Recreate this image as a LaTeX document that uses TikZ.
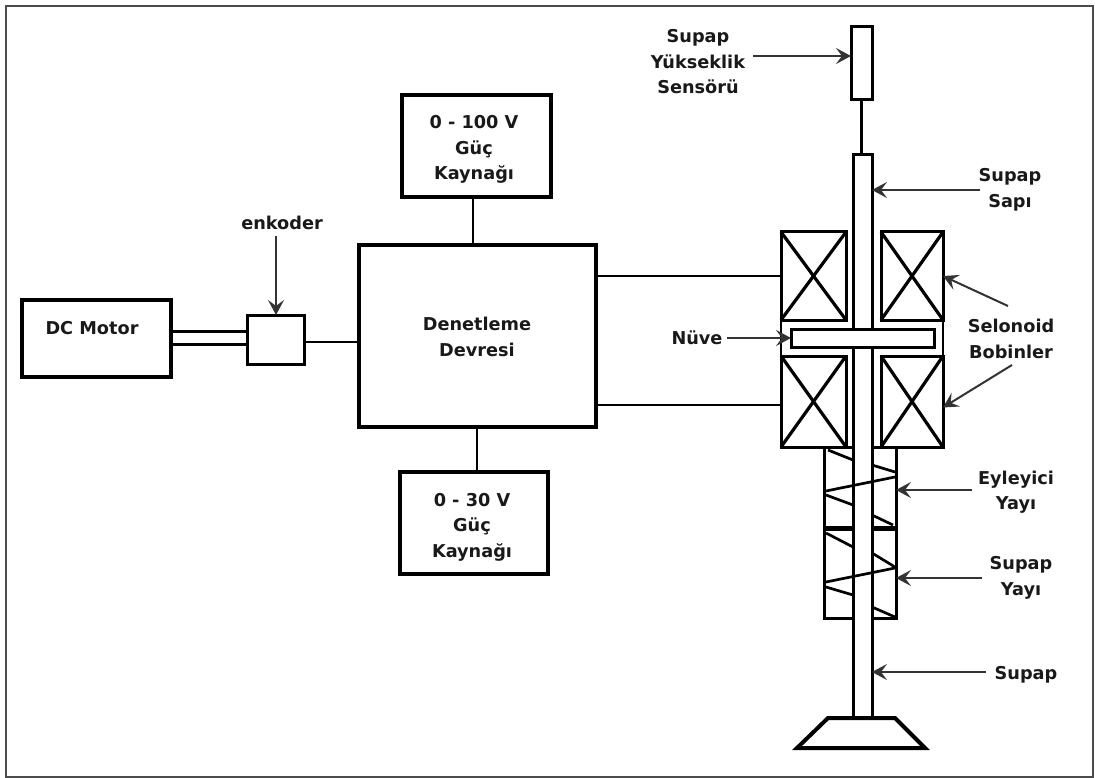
\documentclass[tikz,border=0pt]{standalone}
\usepackage{fontspec}
\setmainfont{DejaVu Sans}
\usetikzlibrary{arrows.meta}
\tikzset{
  thick box/.style={draw=black,fill=white,line width=4.6pt,inner sep=0pt,outer sep=0pt,rectangle},
  thin box/.style={draw=black,fill=white,line width=3pt,inner sep=0pt,outer sep=0pt,rectangle},
  wire/.style={draw=black,line width=2.7pt},
  springline/.style={draw=black,line width=2.7pt},
  lead/.style={draw=black!80,line width=2pt,-{Stealth[length=15pt,width=16pt,inset=6pt]}},
  lbl/.style={font=\fontsize{17.7}{25.5}\selectfont\bfseries,text=black!90,inner sep=0pt,align=center},
  cross/.style={draw=black,line width=3.2pt}
}
\begin{document}
\begin{tikzpicture}[x=1pt,y=-1pt]
\useasboundingbox (0,0) rectangle (1095,778);
\fill[white] (0,0) rectangle (1095,778);
\node[draw=black!70,line width=1.6pt,inner sep=0pt,outer sep=0pt,minimum width=1087pt,minimum height=771pt] (frame) at (549.5,391.5) {};

% block diagram
\node[thick box,minimum width=149pt,minimum height=77pt] (motor) at (96.5,338.5) {};
\node[thin box,minimum width=57pt,minimum height=49pt] (enc) at (275.5,339.5) {};
\node[thick box,minimum width=237pt,minimum height=182pt] (ctrl) at (477.5,336) {};
\node[thick box,minimum width=149pt,minimum height=102pt] (psu1) at (476.5,146) {};
\node[thick box,minimum width=148pt,minimum height=102pt] (psu2) at (474,523) {};

\draw[wire] ([yshift=-6pt]motor.east) -- ([yshift=-6pt]motor.east -| enc.west);
\draw[wire] ([yshift=7pt]motor.east) -- ([yshift=7pt]motor.east -| enc.west);
\draw[wire] ([yshift=-2.5pt]enc.east) -- ([yshift=-2.5pt]enc.east -| ctrl.west);
\draw[wire] ([xshift=-3.5pt]psu1.south) -- ([xshift=-3.5pt]psu1.south |- ctrl.north);
\draw[wire] ([xshift=3pt]psu2.north) -- ([xshift=3pt]psu2.north |- ctrl.south);

% sensor
\node[thin box,minimum width=21pt,minimum height=73pt] (sensor) at (861.5,63.5) {};

% spring housing
\node[thin box,minimum width=72pt,minimum height=171pt] (housing) at (860,532.5) {};
\coordinate (divA) at (860,528);

% side walls between the coils
\draw[wire] (781,320) -- (781,356);
\draw[wire] (943,320) -- (943,356);
\draw[draw=black,line width=5pt] (housing.west |- divA) -- (housing.east |- divA);

% spring, behind the stem
\draw[springline] (828,450) -- (853,460);
\draw[springline] (872,465) -- (895,472);
\draw[springline] (826,495) -- (853,505);
\draw[springline] (872,515) -- (893,525);
\draw[springline] (826,533) -- (853,547);
\draw[springline] (872,553) -- (895,567);
\draw[springline] (826,587) -- (853,595);
\draw[springline] (872,607) -- (895,617);

% stem
\node[thin box,minimum width=19pt,minimum height=562pt] (stem) at (862.5,436) {};
\draw[line width=3.4pt] (sensor.south) -- (sensor.south |- stem.north);
\draw[springline] (895,477) -- (826,491);
\draw[springline] (895,568) -- (826,582);

% coils
\foreach \n/\cx/\cy/\w/\h in {ca/813.5/276/65/88, cb/912/276/62/88, cc/813.5/401.5/65/91, cd/912/401.5/62/91}{
  \node[thin box,minimum width=\w pt,minimum height=\h pt] (\n) at (\cx,\cy) {};
  \draw[cross] (\n.north west) -- (\n.south east);
  \draw[cross] (\n.north east) -- (\n.south west);
}
\node[thin box,minimum width=143pt,minimum height=18pt] (core) at (862.5,338) {};

% valve head
\draw[draw=black,fill=white,line width=4pt,line join=miter] (828,718) -- (895,718) -- (925,748) -- (797,748) -- cycle;

% coil feeds
\draw[wire] (ctrl.east |- ca.west) -- (ca.west);
\draw[wire] ([yshift=-3.5pt]ctrl.east |- cc.west) -- ([yshift=-3.5pt]cc.west);

% labels
\node[lbl] (t1) at (92,328) {DC Motor};
\node[lbl] (t2) at (282,223) {enkoder};
\node[lbl] (t3) at (477,337) {Denetleme\\Devresi};
\node[lbl] (t4) at (474,149.5) {0 - 100 V\\Güç\\Kaynağı};
\node[lbl] (t5) at (472,527) {0 - 30 V\\Güç\\Kaynağı};
\node[lbl] (t6) at (698,62) {Supap\\Yükseklik\\Sensörü};
\node[lbl] (t7) at (1010,190) {Supap\\Sapı};
\node[lbl] (t8) at (1011,339) {Selonoid\\Bobinler};
\node[lbl] (t9) at (697,337.5) {Nüve};
\node[lbl] (t10) at (1016,492) {Eyleyici\\Yayı};
\node[lbl] (t11) at (1021,578) {Supap\\Yayı};
\node[lbl] (t12) at (1026,674.5) {Supap};

% leaders
\coordinate (a1) at (276,236);
\coordinate (a2) at (753,56);
\coordinate (a3) at (980,190);
\coordinate (a4) at (1008,306);
\coordinate (a5) at (1012,365);
\coordinate (a6) at (727,338);
\coordinate (a7) at (972,490);
\coordinate (a8) at (982,578);
\coordinate (a9) at (986,672);
\draw[lead] (a1) -- (a1 |- enc.north);
\draw[lead] (a2) -- (a2 -| sensor.west);
\draw[lead] (a3) -- (a3 -| stem.east);
\draw[lead] (a4) -- (cb.east);
\draw[lead] (a5) -- ([yshift=-6pt]cd.east);
\draw[lead] (a6) -- (a6 -| core.west);
\draw[lead] (a7) -- (a7 -| housing.east);
\draw[lead] (a8) -- (a8 -| housing.east);
\draw[lead] (a9) -- (a9 -| stem.east);
\end{tikzpicture}
\end{document}
